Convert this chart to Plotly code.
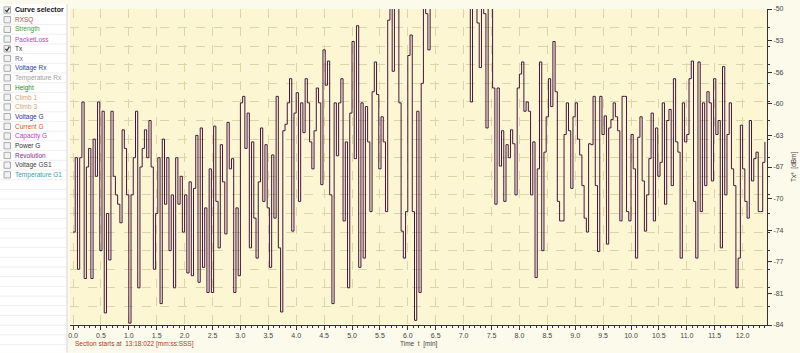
import plotly.graph_objects as go

# ---------------- data (Tx in dBm, one sample every 0.04 min) ----------------
SAMPLE_STEP_MIN = 0.04

tx_min00 = [-74, -66, -78, -66, -60, -79, -67, -65, -79, -64, -68, -60, -76,
            -61, -82.7, -72, -77, -61, -68, -70, -71, -73, -63, -65, -70]
tx_min01 = [-83.8, -70, -66, -61, -80, -67, -65, -63, -66, -62, -67, -78, -72,
            -66, -81.7, -64, -71, -66, -76, -70, -80, -66, -71, -68, -74]
tx_min02 = [-70, -78.4, -68.6, -78.7, -69.3, -63.6, -79.4, -62.8, -77.8, -71.4, -80.5, -67.2, -80.5,
            -62.6, -70.7, -75.7, -64.6, -68.6, -74.2, -62.2, -67.2, -66.1, -80.5, -71.4, -78.7]
tx_min03 = [-60.1, -59.4, -65, -61.2, -75.7, -64.3, -72.5, -76.8, -68.6, -62.8, -70.7, -64.6, -71.4,
            -77.8, -65.7, -72.5, -59.4, -75.7, -82.6, -63.1, -62.4, -60.1, -57.5, -73.9, -61.2]
tx_min04 = [-59, -70.7, -60.1, -63.3, -57.5, -60.1, -64.3, -67.2, -63.1, -58.5, -60.1, -68.9, -54.4,
            -58.2, -55.6, -70, -81.7, -60.1, -65.8, -60.1, -57.5, -72.8, -64.3, -80, -61.2]
tx_min05 = [-53.5, -66.1, -51.8, -77.8, -60.1, -76.8, -60.5, -64.3, -71.8, -58.9, -55.7, -59.2, -67.2,
            -61.6, -64.3, -71.8, -51.2, -48, -56.7, -47, -49, -60.1, -73.9, -76.8, -71.8]
tx_min06 = [-55, -52.8, -71.8, -83.5, -61, -80.5, -58, -46, -50.5, -54.4, -46, -44, -45,
            -43, -46, -44, -45, -43, -44, -46, -45, -43, -44, -46, -45]
tx_min07 = [-44, -46, -45, -60, -47, -49, -51.5, -56.3, -48, -50.5, -62.8, -47, -48,
            -58.5, -71, -58.5, -66.9, -63.1, -70.7, -64.6, -66, -63, -64.5, -70, -58.5]
tx_min08 = [-57, -55.7, -61, -60, -61, -70, -64.3, -78.9, -67.2, -55.7, -76, -65.4, -61.6,
            -57.5, -60.5, -53.5, -58.9, -70.7, -72.8, -72.8, -63.5, -60.1, -63.1, -69.3, -61.6]
tx_min09 = [-60.1, -64, -65.7, -69, -72.5, -74, -64.5, -64.6, -59.4, -69, -76.1, -59.4, -63.5,
            -61.5, -75.3, -62.8, -61.9, -60.1, -61.6, -63.1, -72.8, -59.4, -59.4, -71.8, -72.8]
tx_min10 = [-63.5, -67.2, -76.8, -63.8, -61.6, -68.5, -73.9, -70, -66.1, -61.2, -72.8, -62.8, -68,
            -66.5, -60.1, -71, -62, -60.8, -69, -57.5, -64.3, -65.4, -76.8, -60.1, -64.3]
tx_min11 = [-63.5, -57.5, -55.6, -70.7, -76.8, -55.7, -71.8, -60.1, -69, -58.9, -60.1, -68.5, -57.5,
            -63.5, -62, -75.7, -56.2, -70, -63.5, -60.1, -67.2, -69, -80, -76.8, -62.5]
tx_min12 = [-67.2, -70.7, -72.5, -62, -68.5, -66.1, -65.4, -71.8, -71.8, -66.5, -64.3]

tx_dbm = (tx_min00 + tx_min01 + tx_min02 + tx_min03 + tx_min04 + tx_min05 + tx_min06 +
          tx_min07 + tx_min08 + tx_min09 + tx_min10 + tx_min11 + tx_min12)
t_min = [round(i * SAMPLE_STEP_MIN, 2) for i in range(len(tx_dbm))]

x_tick_vals = [0.0, 0.5, 1.0, 1.5, 2.0, 2.5, 3.0, 3.5, 4.0, 4.5, 5.0, 5.5, 6.0,
               6.5, 7.0, 7.5, 8.0, 8.5, 9.0, 9.5, 10.0, 10.5, 11.0, 11.5, 12.0]
x_tick_text = ["%.1f" % v for v in x_tick_vals]
y_tick_vals = [-50, -53.4, -56.8, -60.2, -63.6, -67.0, -70.4, -73.8, -77.2, -80.6, -84]
y_tick_text = ["-50", "-53", "-56", "-60", "-63", "-67", "-70", "-74", "-77", "-81", "-84"]

curve_names = ["RXSQ", "Strength", "PacketLoss", "Tx", "Rx", "Voltage Rx", "Temperature Rx",
               "Height", "Climb 1", "Climb 3", "Voltage G", "Current G", "Capacity G",
               "Power G", "Revolution", "Voltage GS1", "Temperature G1"]
curve_colors = ["#D04848", "#3CA03C", "#C040C0", "#303030", "#7A6A9A", "#283C9C", "#A0A0A0",
                "#2E8A2E", "#D2A868", "#D2A868", "#30309A", "#D05A28", "#C038C0",
                "#303030", "#8A2A8A", "#404040", "#3AA0A8"]
curve_checked = [False, False, False, True, False, False, False, False, False, False,
                 False, False, False, False, False, False, False]

# ---------------- geometry helpers ----------------
W, H = 800, 353
ML, MR, MT, MB = 70, 33, 5, 28
PW, PH = W - ML - MR, H - MT - MB


def px(x):
    return (x - ML) / PW


def py(y):
    return 1 - (y - MT) / PH


FONT = "Liberation Sans, Arial, sans-serif"

fig = go.Figure()
fig.add_trace(go.Scatter(
    x=t_min, y=tx_dbm, mode="lines", line=dict(color="#44163F", width=1, shape="hv"),
    hoverinfo="skip", showlegend=False))

shapes = []
annotations = []

# left selector panel
shapes.append(dict(type="rect", xref="paper", yref="paper", x0=px(0), x1=px(67), y0=py(H), y1=py(0),
                   fillcolor="#FFFFFF", line=dict(width=0), layer="below"))
shapes.append(dict(type="line", xref="paper", yref="paper", x0=px(67), x1=px(67), y0=py(H), y1=py(0),
                   line=dict(color="#D6D6D6", width=1)))
ROW0, ROWH = 6.0, 9.82
yy = ROW0 + ROWH / 2
while yy < H:
    shapes.append(dict(type="line", xref="paper", yref="paper", x0=px(0), x1=px(66), y0=py(yy), y1=py(yy),
                       line=dict(color="#EFEFEF", width=1)))
    yy += ROWH


def checkbox(yc, checked):
    shapes.append(dict(type="rect", xref="paper", yref="paper", x0=px(4), x1=px(10.5),
                       y0=py(yc + 3.2), y1=py(yc - 3.2),
                       fillcolor="#F2F2F2", line=dict(color="#A9A9A9", width=1)))
    if checked:
        p = "M %f,%f L %f,%f L %f,%f" % (px(5.3), py(yc), px(6.9), py(yc + 1.8), px(9.4), py(yc - 2.2))
        shapes.append(dict(type="path", xref="paper", yref="paper", path=p,
                           line=dict(color="#333333", width=1.2)))


checkbox(ROW0, True)
annotations.append(dict(xref="paper", yref="paper", x=px(13), y=py(ROW0), xanchor="left", yanchor="middle",
                        text="<b>Curve selector</b>", showarrow=False,
                        font=dict(family=FONT, size=7, color="#111111")))
for i, (name, col, chk) in enumerate(zip(curve_names, curve_colors, curve_checked)):
    yc = ROW0 + ROWH * (i + 1)
    checkbox(yc, chk)
    annotations.append(dict(xref="paper", yref="paper", x=px(13), y=py(yc), xanchor="left", yanchor="middle",
                            text=name, showarrow=False, font=dict(family=FONT, size=6.5, color=col)))

# texts below the x axis
annotations.append(dict(xref="paper", yref="paper", x=px(73), y=py(344), xanchor="left", yanchor="middle",
                        text="Section starts at  13:18:022 [mm:ss:SSS]", showarrow=False,
                        font=dict(family=FONT, size=6.5, color="#B0392C")))
annotations.append(dict(xref="paper", yref="paper", x=px(419), y=py(344), xanchor="center", yanchor="middle",
                        text="Time  t  [min]", showarrow=False,
                        font=dict(family=FONT, size=6.5, color="#444444")))
# y axis title (right)
annotations.append(dict(xref="paper", yref="paper", x=px(794), y=py(165), xanchor="center", yanchor="middle",
                        text="Tx*  [dBm]", textangle=-90, showarrow=False,
                        font=dict(family=FONT, size=6.5, color="#444444")))

x_left = (ML - 73) / 55.8
x_right = (ML + PW - 73) / 55.8

fig.update_layout(
    width=W, height=H, margin=dict(l=ML, r=MR, t=MT, b=MB, pad=0),
    paper_bgcolor="#FCFAEA", plot_bgcolor="#FCF6D3",
    font=dict(family=FONT, size=7, color="#444444"),
    showlegend=False, shapes=shapes, annotations=annotations,
    xaxis=dict(range=[x_left, x_right], tickmode="array", tickvals=x_tick_vals, ticktext=x_tick_text,
               showgrid=True, gridcolor="#DDD5A8", griddash="dash", gridwidth=1,
               showline=True, linecolor="#333333", linewidth=1,
               ticks="outside", ticklen=4, tickcolor="#333333", tickwidth=1,
               tickfont=dict(family=FONT, size=7, color="#444444"),
               minor=dict(dtick=0.1, tick0=0, ticks="outside", ticklen=2, tickcolor="#333333",
                          showgrid=False),
               zeroline=False, fixedrange=True),
    yaxis=dict(range=[-84, -50], side="right", tickmode="array", tickvals=y_tick_vals, ticktext=y_tick_text,
               showgrid=False, showline=True, linecolor="#333333", linewidth=1,
               ticks="outside", ticklen=4, tickcolor="#333333", tickwidth=1,
               tickfont=dict(family=FONT, size=7, color="#444444"),
               minor=dict(dtick=2, tick0=-84, ticks="outside", ticklen=2, tickcolor="#333333",
                          showgrid=True, gridcolor="#DDD5A8", griddash="dash", gridwidth=1),
               zeroline=False, fixedrange=True),
)

fig.write_html("out.html")
